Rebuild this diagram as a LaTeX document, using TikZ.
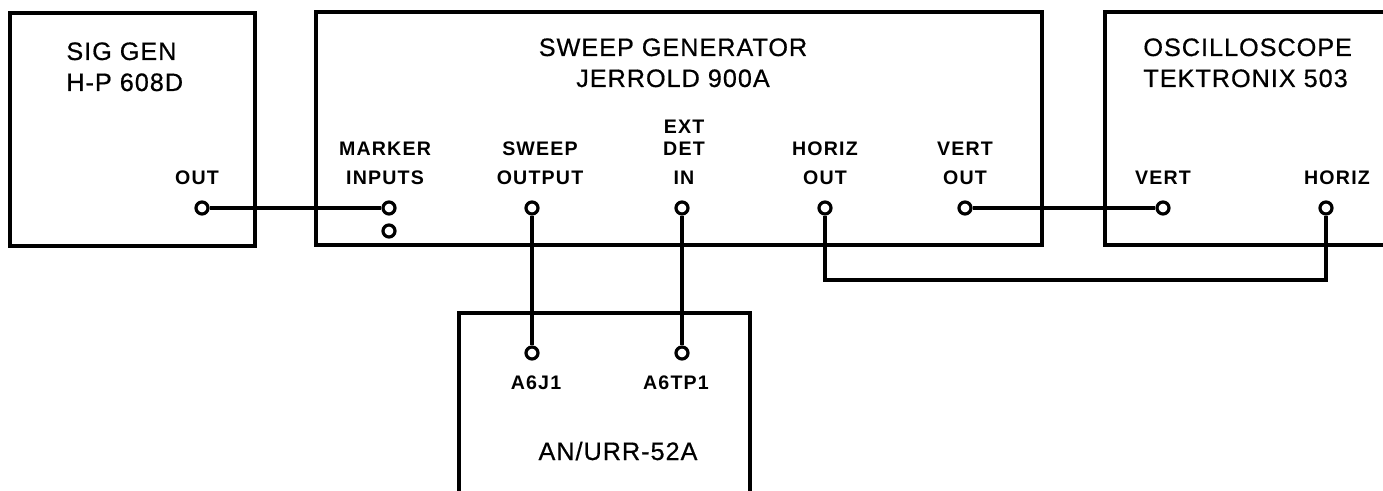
\documentclass[tikz,border=0pt]{standalone}
\usepackage{fontspec}
\newfontfamily\titlefont[LetterSpace=4, FakeBold=0.6]{Liberation Sans}
\newfontfamily\labelfont[LetterSpace=6]{Liberation Sans Bold}
\usetikzlibrary{positioning, fit}

\begin{document}
\begin{tikzpicture}[
x=0.5pt, y=-0.5pt,
node distance=7.5pt,
unit/.style={draw, line width=1.6pt, inner sep=0pt},
jack/.style={draw, circle, line width=1.6pt, inner sep=0pt, minimum size=6pt},
title/.style={font=\titlefont\fontsize{12.6}{15.5}\selectfont, align=center, inner sep=0pt},
lbl/.style={font=\labelfont\fontsize{9.8}{14.5}\selectfont, align=center, inner sep=0pt},
wire/.style={line width=1.6pt}
]
\useasboundingbox (0,0) rectangle (1383,491);
\clip (0,0) rectangle (1383,491);

\node[unit, fit={(10,13) (255,246)}] (siggen) {};
\node[unit, fit={(316,12) (1042,245)}] (sweep) {};
\node[unit, fit={(1105,12) (1420,245)}] (scope) {};
\node[unit, fit={(459,313) (750,520)}] (urr) {};

\node[title, align=left, anchor=north west] (siggentxt) at (66,42)
{SIG GEN\\H-P 608D};
\node[title, anchor=north] (sweeptxt) at (673,38)
{SWEEP GENERATOR\\JERROLD 900A};
\node[title, align=left, anchor=north west] (scopetxt) at (1143,38)
{OSCILLOSCOPE\\TEKTRONIX 503};
\node[title] (urrtxt) at (618,451)
{AN/URR-52A};

\node[jack] (out) at (202,208) {};
\node[jack] (marker) at (389,208) {};
\node[jack] (marker2) at (389,231) {};
\node[jack] (swpout) at (532,208) {};
\node[jack] (extdet) at (682,208) {};
\node[jack] (horizout) at (825,208) {};
\node[jack] (vertout) at (965,208) {};
\node[jack] (vertin) at (1163,208) {};
\node[jack] (horizin) at (1326,208) {};
\node[jack] (ajone) at (532,353) {};
\node[jack] (atpone) at (682,353) {};

\node[lbl, above=of out, xshift=-2.5pt] (outlbl) {OUT};
\node[lbl, above=of marker, xshift=-2pt] (markerlbl) {MARKER\\INPUTS};
\node[lbl, above=of swpout, xshift=4pt] (swpoutlbl) {SWEEP\\OUTPUT};
\node[lbl, above=of extdet, xshift=1pt] (extdetlbl) {EXT\\[-3.5pt]DET\\IN};
\node[lbl, above=of horizout] (horizoutlbl) {HORIZ\\OUT};
\node[lbl, above=of vertout] (vertoutlbl) {VERT\\OUT};
\node[lbl, above=of vertin] (vertinlbl) {VERT};
\node[lbl, above=of horizin, xshift=5.5pt] (horizinlbl) {HORIZ};
\node[lbl, below=of ajone, xshift=2pt] (ajonelbl) {A6J1};
\node[lbl, below=of atpone, xshift=-3pt] (atponelbl) {A6TP1};

\coordinate (bus) at (825,280);

\draw[wire] (out) -- (marker);
\draw[wire] (swpout) -- (ajone);
\draw[wire] (extdet) -- (atpone);
\draw[wire] (vertout) -- (vertin);
\draw[wire] (horizout) -- (horizout |- bus) -| (horizin);

\end{tikzpicture}
\end{document}
